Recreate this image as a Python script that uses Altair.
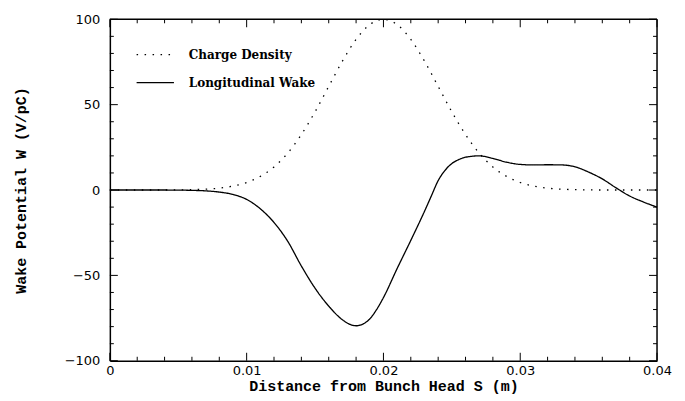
import altair as alt
import pandas as pd

# --- data ---
wake_s = [0.0, 0.002, 0.004, 0.006, 0.007, 0.008, 0.009, 0.010, 0.011, 0.012,
          0.013, 0.014, 0.015, 0.016, 0.017, 0.0175, 0.018, 0.0185, 0.019, 0.0195,
          0.020, 0.021, 0.022, 0.023, 0.0235, 0.024, 0.0245, 0.025, 0.0255, 0.026,
          0.027, 0.028, 0.029, 0.030, 0.031, 0.032, 0.033, 0.034, 0.035, 0.036,
          0.037, 0.038, 0.039, 0.040]
wake_w = [0.0, 0.0, 0.0, -0.2, -0.5, -1.2, -2.6, -5.5, -11.0, -19.0,
          -30.0, -44.5, -57.5, -68.0, -76.0, -78.5, -79.5, -78.5, -75.5, -70.0,
          -63.0, -46.0, -29.5, -12.5, -3.5, 5.5, 11.5, 15.5, 17.8, 19.2,
          20.0, 18.5, 16.3, 15.0, 14.7, 14.8, 14.7, 13.6, 10.5, 6.5,
          1.3, -3.5, -7.0, -10.0]

charge_s = [0.0, 0.004, 0.005, 0.006, 0.007, 0.008, 0.009, 0.010, 0.011, 0.012,
            0.013, 0.014, 0.015, 0.016, 0.017, 0.018, 0.019, 0.020, 0.021, 0.022,
            0.023, 0.024, 0.025, 0.026, 0.027, 0.028, 0.029, 0.030, 0.031, 0.032,
            0.033, 0.034, 0.035, 0.036, 0.040]
charge_w = [0.0, 0.0, 0.1, 0.2, 0.5, 1.1, 2.3, 4.4, 8.0, 13.5,
            21.6, 32.5, 45.8, 60.7, 75.5, 88.2, 96.9, 100.0, 96.9, 88.2,
            75.5, 60.7, 45.8, 32.5, 21.6, 13.5, 8.0, 4.4, 2.3, 1.1,
            0.5, 0.2, 0.1, 0.0, 0.0]

series_names = ["Charge Density", "Longitudinal Wake"]

x_major = [0.0, 0.01, 0.02, 0.03, 0.04]
x_minor = [0.002, 0.004, 0.006, 0.008, 0.012, 0.014, 0.016, 0.018,
           0.022, 0.024, 0.026, 0.028, 0.032, 0.034, 0.036, 0.038]
y_major = [-100, -50, 0, 50, 100]
y_minor = [-90, -80, -70, -60, -40, -30, -20, -10,
           10, 20, 30, 40, 60, 70, 80, 90]

W, H = 548, 342

df = pd.concat([
    pd.DataFrame({"s": charge_s, "w": charge_w, "series": series_names[0]}),
    pd.DataFrame({"s": wake_s, "w": wake_w, "series": series_names[1]}),
])

xscale = alt.Scale(domain=[0, 0.04], nice=False, zero=False)
yscale = alt.Scale(domain=[-100, 100], nice=False, zero=False)

tick_font = "DejaVu Sans"
title_font = "Liberation Mono"

lines = alt.Chart(df).mark_line(interpolate="monotone", color="black", strokeWidth=1.3).encode(
    x=alt.X("s:Q", scale=xscale,
            axis=alt.Axis(values=x_major, format="~g",
                          title="Distance from Bunch Head S (m)",
                          ticks=False, domain=True, domainColor="black", domainWidth=1.5,
                          grid=False, labelPadding=4,
                          labelFont=tick_font, labelFontSize=13, labelColor="black",
                          titleFont=title_font, titleFontSize=15, titleFontWeight="bold",
                          titleColor="black", titlePadding=1, labelFlush=False)),
    y=alt.Y("w:Q", scale=yscale,
            axis=alt.Axis(values=y_major, title="Wake Potential W (V/pC)",
                          ticks=False, domain=True, domainColor="black", domainWidth=1.5,
                          grid=False, labelPadding=10,
                          labelFont=tick_font, labelFontSize=13, labelColor="black",
                          titleFont=title_font, titleFontSize=15, titleFontWeight="bold",
                          titleColor="black", titlePadding=36, labelFlush=False)),
    strokeDash=alt.StrokeDash("series:N",
        scale=alt.Scale(domain=series_names, range=[[1.5, 6.5], [1, 0]]),
        legend=alt.Legend(title=None, orient="none", legendX=26, legendY=16,
                          symbolType="stroke", symbolSize=1400, symbolStrokeWidth=1.3,
                          symbolStrokeColor="black", labelFont="DejaVu Serif",
                          labelFontWeight="bold", labelFontSize=12, labelColor="black",
                          labelOffset=14)),
)


def xticks(vals, length):
    d = alt.Data(values=[{"v": v} for v in vals])
    bottom = alt.Chart(d).mark_rule(color="black", strokeWidth=1).encode(
        x=alt.X("v:Q", scale=xscale), y=alt.value(H), y2=alt.value(H - length))
    top = alt.Chart(d).mark_rule(color="black", strokeWidth=1).encode(
        x=alt.X("v:Q", scale=xscale), y=alt.value(0), y2=alt.value(length))
    return [bottom, top]


def yticks(vals, length):
    d = alt.Data(values=[{"v": v} for v in vals])
    left = alt.Chart(d).mark_rule(color="black", strokeWidth=1).encode(
        y=alt.Y("v:Q", scale=yscale), x=alt.value(0), x2=alt.value(length))
    right = alt.Chart(d).mark_rule(color="black", strokeWidth=1).encode(
        y=alt.Y("v:Q", scale=yscale), x=alt.value(W), x2=alt.value(W - length))
    return [left, right]


frame_top = alt.Chart(alt.Data(values=[{"k": 0}])).mark_rule(color="black", strokeWidth=1.5).encode(
    y=alt.value(0), x=alt.value(0), x2=alt.value(W))
frame_right = alt.Chart(alt.Data(values=[{"k": 0}])).mark_rule(color="black", strokeWidth=1.5).encode(
    x=alt.value(W), y=alt.value(0), y2=alt.value(H))

layers = ([lines] + xticks(x_major, 8) + xticks(x_minor, 4)
          + yticks(y_major, 8) + yticks(y_minor, 4) + [frame_top, frame_right])

chart = alt.layer(*layers).properties(width=W, height=H).configure_view(strokeWidth=0)

chart.save("out.html", embed_options={"renderer": "svg", "actions": False})
